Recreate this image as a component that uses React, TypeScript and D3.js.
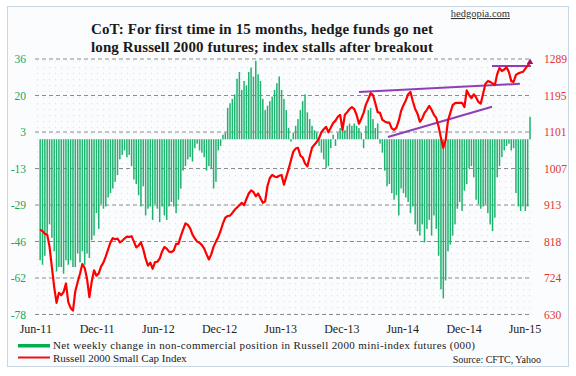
import React from 'react';
import * as d3 from 'd3';

const W = 576;
const H = 376;

// weekly observations, starting 14 Jun 2011
const startDate = new Date(2011, 5, 14);

const netChange = [
  -54, -56, -52, -42, -38, -44, -50, -59, -57, -57, -60, -54, -56, -54, -57, -57, -51, -55, -50, -56,
  -51, -53, -45, -43, -33, -40, -29, -31, -30, -26, -24, -22, -19, -16, -9, -7, -5, -8, -7, -12,
  -18, -20, -25, -30, -21, -34, -31, -30, -36, -29, -31, -37, -30, -34, -36, -30, -28, -30, -33, -27,
  -22, -14, -12, -9, -8, -10, -4, -2, -5, -6, -8, -14, -12, -13, -22, -19, -5, -3, 2, 3,
  14, 16, 18, 20, 27, 30, 22, 26, 24, 30, 32, 28, 35, 29, 26, 18, 13, 15, 17, 19,
  22, 25, 28, 22, 18, 13, 5, -1, 3, 6, 9, 13, 17, 20, 12, 9, 6, 4, 3, -3,
  -6, -9, -13, -12, -4, 2, -3, 3, 5, 6, 4, 6, 7, 6, 7, 6, 5, 3, -4, 6,
  13, 14, 9, 5, 7, -2, -6, -14, -21, -20, -24, -27, -25, -34, -22, -24, -26, -28, -33, -30,
  -38, -41, -43, -38, -46, -40, -36, -43, -34, -40, -52, -67, -71, -63, -50, -47, -43, -38, -31, -28,
  -32, -23, -20, -13, -12, -17, -27, -29, -31, -30, -29, -33, -38, -41, -35, -17, -12, -8, -5, -3,
  -2, -5, -4, -24, -30, -32, -30, -32, -30, 10,
];

const russell = [
  849, 845, 838, 836, 805, 752, 700, 660, 686, 680, 688, 710, 662, 647, 640, 690, 714, 735, 760, 750,
  722, 675, 715, 744, 730, 736, 754, 764, 780, 798, 816, 827, 824, 826, 816, 820, 826, 831, 830, 832,
  818, 803, 808, 816, 798, 774, 756, 764, 748, 765, 766, 774, 792, 804, 800, 792, 791, 795, 812, 812,
  832, 849, 865, 861, 852, 836, 826, 818, 815, 809, 800, 785, 772, 785, 805, 818, 830, 846, 865, 880,
  884, 885, 892, 900, 906, 912, 918, 912, 928, 942, 950, 946, 935, 942, 930, 918, 922, 962, 982, 990,
  986, 984, 988, 990, 965, 985, 1005, 1028, 1050, 1058, 1060, 1040, 1035, 1020, 1012, 1037, 1060, 1068, 1075, 1085,
  1100, 1108, 1114, 1100, 1112, 1124, 1130, 1140, 1145, 1106, 1145, 1152, 1160, 1165, 1160, 1145, 1122, 1135, 1150, 1172,
  1185, 1201, 1196, 1175, 1152, 1150, 1132, 1128, 1125, 1125, 1110, 1106, 1112, 1130, 1155, 1170, 1182, 1198, 1204, 1180,
  1160, 1148, 1127, 1135, 1150, 1158, 1168, 1158, 1145, 1137, 1115, 1085, 1060, 1080, 1130, 1150, 1170, 1175, 1176, 1176,
  1176, 1165, 1208, 1196, 1188, 1198, 1190, 1178, 1174, 1200, 1225, 1232, 1230, 1226, 1222, 1250, 1266, 1258, 1262, 1268,
  1255, 1232, 1230, 1248, 1252, 1254, 1256, 1264, 1272, 1281,
];

// trend lines drawn on the index: [week index, index level]
const trendUpper = [[136, 1204], [204.7, 1225]];
const trendLower = [[148.4, 1088], [192.8, 1166]];
const trendTop = [[192.8, 1271], [209.4, 1271]];

const leftDomain = [-78.2, 35.8];
const rightDomain = [630, 1289];
const leftTickLabels = ['-78', '-62', '-46', '-29', '-13', '3', '20', '36'];
const rightTickLabels = ['630', '724', '818', '913', '1007', '1101', '1195', '1289'];
const xTickDates = [
  new Date(2011, 5, 1), new Date(2011, 11, 1), new Date(2012, 5, 1), new Date(2012, 11, 1),
  new Date(2013, 5, 1), new Date(2013, 11, 1), new Date(2014, 5, 1), new Date(2014, 11, 1),
  new Date(2015, 5, 1),
];

const titleLines = [
  'CoT:  For first time in 15 months,  hedge funds  go net',
  'long Russell 2000 futures; index  stalls after  breakout',
];
const legendLabels = [
  'Net weekly change in non-commercial position in Russell 2000 mini-index futures (000)',
  'Russell 2000 Small Cap Index',
];

export default function App() {
  const plotL = 35;
  const plotR = 531;
  const plotT = 59;
  const plotB = 314.5;

  const x = d3.scaleTime()
    .domain([new Date(2011, 5, 1), new Date(2015, 5, 1)])
    .range([35.8, 525]);
  const xi = (i: number) => x(new Date(startDate.getTime() + i * 7 * 86400000));
  const yL = d3.scaleLinear().domain(leftDomain).range([plotB, plotT]);
  const yR = d3.scaleLinear().domain(rightDomain).range([plotB, plotT]);

  const tickFrac = d3.range(8).map((k) => k / 7);
  const gridYs = tickFrac.map((f) => yL(leftDomain[0] + f * (leftDomain[1] - leftDomain[0])));
  const rightYs = tickFrac.map((f) => yR(rightDomain[0] + f * (rightDomain[1] - rightDomain[0])));

  const line = d3.line<number>()
    .x((_, i) => xi(i))
    .y((d) => yR(d))
    .curve(d3.curveLinear);

  const trendPath = (pts: number[][]) =>
    d3.line<number[]>().x((p) => xi(p[0])).y((p) => yR(p[1]))(pts) || '';

  const fmt = d3.timeFormat('%b-%y');
  const serif = "'Liberation Serif', 'Times New Roman', serif";
  const last = russell.length - 1;
  const tri = d3.symbol().type(d3.symbolTriangle).size(18)() || '';

  return (
    <svg width={W} height={H} style={{ position: 'absolute', left: 0, top: 0 }} xmlns="http://www.w3.org/2000/svg">
      <defs>
        <pattern id="dots" width="6" height="6" patternUnits="userSpaceOnUse">
          <circle cx="1.5" cy="1.5" r="0.7" fill="#ede7b0" />
        </pattern>
      </defs>
      <rect x={0} y={0} width={W} height={H} fill="#ffffff" />
      <rect x={7.5} y={6.5} width={561} height={360} fill="#fbfcfd" stroke="#c9d6e4" strokeWidth={1} />
      <rect x={plotL} y={plotT} width={plotR - plotL} height={plotB - plotT} fill="url(#dots)" />

      {/* gridlines */}
      {gridYs.map((gy, k) => (
        <line key={'g' + k} x1={plotL} x2={plotR} y1={gy} y2={gy} stroke="#8c8c8c" strokeWidth={1} strokeDasharray="4,3" />
      ))}

      {/* bars */}
      {netChange.map((v, i) => {
        const y0 = yL(0);
        const y1 = yL(v);
        return (
          <rect key={'b' + i} x={xi(i) - 0.75} width={1.5} y={Math.min(y0, y1)} height={Math.abs(y1 - y0)} fill="#1fb370" />
        );
      })}

      {/* trend lines */}
      <path d={trendPath(trendUpper)} stroke="#8e3fb8" strokeWidth={2} fill="none" />
      <path d={trendPath(trendLower)} stroke="#8e3fb8" strokeWidth={2} fill="none" />
      <path d={trendPath(trendTop)} stroke="#8e3fb8" strokeWidth={2} fill="none" />

      {/* index line */}
      <path d={line(russell) || ''} stroke="#ff0000" strokeWidth={2.2} fill="none" strokeLinejoin="round" />
      <path d={tri} transform={`translate(${xi(last)},${yR(russell[last])})`} fill="#a3125a" />

      {/* left axis labels */}
      {gridYs.map((gy, k) => (
        <text key={'l' + k} x={26} y={gy} dy="0.35em" textAnchor="end" fontFamily={serif} fontSize={11.5} fill="#19a75a">
          {leftTickLabels[k]}
        </text>
      ))}
      {/* right axis labels */}
      {rightYs.map((ry, k) => (
        <text key={'r' + k} x={544} y={ry} dy="0.35em" textAnchor="start" fontFamily={serif} fontSize={11.5} fill="#e23434">
          {rightTickLabels[k]}
        </text>
      ))}
      {/* x labels */}
      {xTickDates.map((d, k) => (
        <text key={'x' + k} x={x(d)} y={333} textAnchor="middle" fontFamily={serif} fontSize={12} fill="#222">
          {fmt(d)}
        </text>
      ))}

      {/* title */}
      {titleLines.map((t, k) => (
        <text key={'t' + k} x={91} y={34 + k * 17.5} textLength={342} lengthAdjust="spacing" fontFamily={serif} fontWeight="bold" fontSize={15} fill="#1a1a1a">
          {t}
        </text>
      ))}
      <text x={510} y={17} textAnchor="end" fontFamily={serif} fontSize={10.5} fill="#333" textDecoration="underline">
        hedgopia.com
      </text>

      {/* legend */}
      <rect x={18} y={344} width={32} height={3.5} fill="#00b050" />
      <line x1={18} x2={50} y1={357.5} y2={357.5} stroke="#ee1111" strokeWidth={2} />
      <text x={53} y={349} textLength={422} lengthAdjust="spacing" fontFamily={serif} fontSize={11} fill="#222">{legendLabels[0]}</text>
      <text x={53} y={361.5} fontFamily={serif} fontSize={11} fill="#222">{legendLabels[1]}</text>
      <text x={541} y={363} textAnchor="end" fontFamily={serif} fontSize={10} fill="#222">Source: CFTC, Yahoo</text>
    </svg>
  );
}
